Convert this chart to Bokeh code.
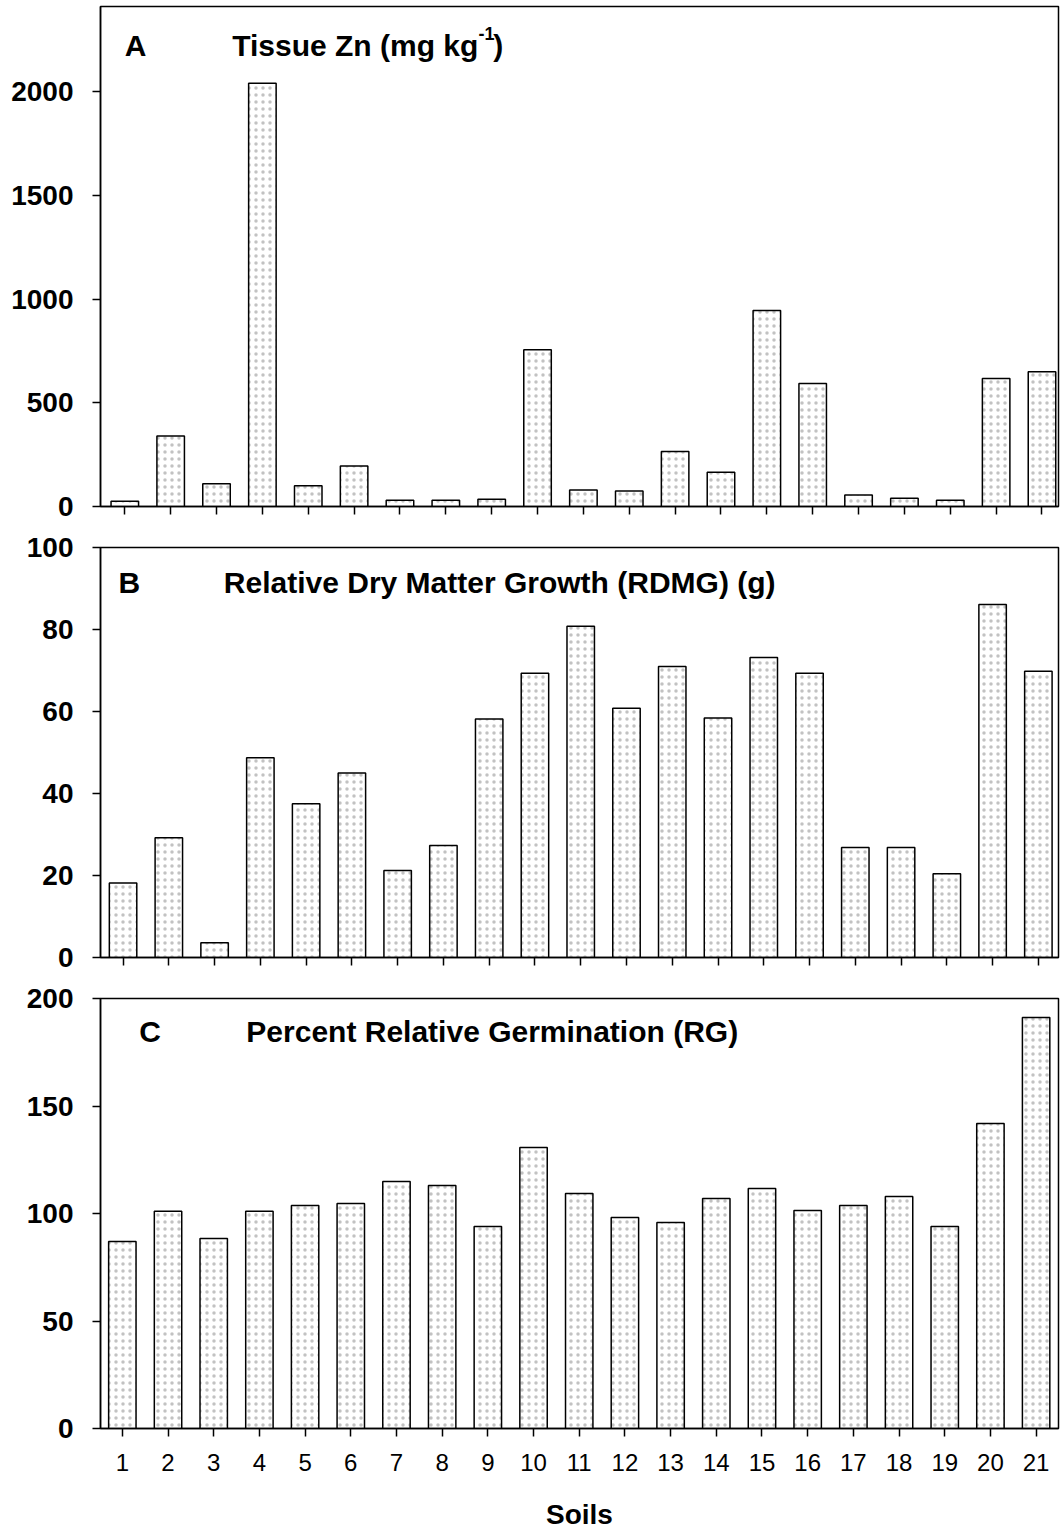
from bokeh.plotting import figure
from bokeh.layouts import column
from bokeh.models import Label, FixedTicker, Range1d
from bokeh.embed import file_html
from bokeh.resources import INLINE

soils = list(range(1, 22))
soil_labels = [str(s) for s in soils]

tissue_zn = [25, 340, 110, 2040, 100, 195, 30, 30, 35, 755, 80, 75, 265, 165, 945, 593, 55, 40, 30, 617, 650]
rdmg = [18.2, 29.2, 3.6, 48.7, 37.5, 45.0, 21.2, 27.3, 58.2, 69.3, 80.8, 60.8, 71.0, 58.4, 73.2, 69.3, 26.8, 26.8, 20.4, 86.1, 69.8]
rg = [87, 101, 88.4, 101, 103.7, 104.7, 114.9, 113, 94, 130.7, 109.3, 98.1, 95.8, 107, 111.6, 101.4, 103.7, 107.9, 94, 141.9, 191.2]

yticks_a = [0, 500, 1000, 1500, 2000]
yticks_b = [0, 20, 40, 60, 80, 100]
yticks_c = [0, 50, 100, 150, 200]

FONT = "Liberation Sans"


def make_panel(vals, xr, yr, yticks, height, bl, bt, bb, br, show_xlabels):
    p = figure(width=1061, height=height, x_range=Range1d(*xr), y_range=Range1d(*yr),
               output_backend="svg", toolbar_location=None,
               min_border_left=bl, min_border_top=bt, min_border_bottom=bb, min_border_right=br)
    p.xgrid.visible = False
    p.ygrid.visible = False
    p.outline_line_color = "black"
    p.outline_line_width = 1.5
    p.background_fill_color = "white"
    p.border_fill_color = "white"
    p.vbar(x=soils, top=vals, width=0.6, bottom=0, fill_color="white",
           line_color="black", line_width=1.5,
           hatch_pattern=".", hatch_color="#a8a8a8", hatch_scale=7, hatch_weight=1.0, hatch_alpha=0.7)
    for ax in (p.xaxis, p.yaxis):
        ax.axis_line_color = "black"
        ax.axis_line_width = 1.5
        ax.major_tick_line_color = "black"
        ax.major_tick_line_width = 1.5
        ax.major_tick_out = 8
        ax.major_tick_in = 0
        ax.minor_tick_line_color = None
    p.yaxis.ticker = FixedTicker(ticks=yticks)
    p.yaxis.major_label_text_font = FONT
    p.yaxis.major_label_text_font_style = "bold"
    p.yaxis.major_label_text_font_size = "28px"
    p.yaxis.major_label_text_color = "black"
    p.yaxis.major_label_standoff = 19
    p.xaxis.ticker = FixedTicker(ticks=soils)
    if show_xlabels:
        p.xaxis.major_label_text_font = FONT
        p.xaxis.major_label_text_font_size = "24px"
        p.xaxis.major_label_text_color = "black"
        p.xaxis.major_label_standoff = 17
        p.xaxis.axis_label = "Soils"
        p.xaxis.axis_label_text_font = FONT
        p.xaxis.axis_label_text_font_style = "bold"
        p.xaxis.axis_label_text_font_size = "28px"
        p.xaxis.axis_label_text_color = "black"
        p.xaxis.axis_label_standoff = 25
    else:
        p.xaxis.major_label_overrides = {s: "" for s in soils}
        p.xaxis.major_label_text_font_size = "10px"
        p.xaxis.major_label_standoff = 0
    return p


def lbl(p, x, y, text, size="30px", align="left"):
    p.add_layout(Label(x=x, y=y, text=text, text_font=FONT, text_font_style="bold",
                       text_font_size=size, text_color="black", text_align=align,
                       text_baseline="alphabetic"))


# Panel A  (figure occupies y 0..526)
pa = make_panel(tissue_zn, (0.47, 21.36), (0, 2410), yticks_a, 526, 100, 6, 20, 0, False)
ax_px = lambda px: (px - 124.3) / 46 + 1
ay_px = lambda py: (505.5 - py) / 0.2073
lbl(pa, ax_px(135), ay_px(45), "A", align="center")
lbl(pa, ax_px(232), ay_px(45), "Tissue Zn (mg kg")
lbl(pa, ax_px(479), ay_px(33), "-1", size="18px")
lbl(pa, ax_px(494), ay_px(45), ")")

# Panel B  (figure occupies y 526..980)
pb = make_panel(rdmg, (0.507, 21.44), (0, 100), yticks_b, 454, 98, 21, 23, 0, False)
bx_px = lambda px: (px - 120.7) / 46 + 1
by_px = lambda py: (956.5 - py) / 4.1
lbl(pb, bx_px(127), by_px(581), "B", align="center")
lbl(pb, bx_px(222), by_px(581), "Relative Dry Matter Growth (RDMG) (g)")

# Panel C  (figure occupies y 980..1533)
pc = make_panel(rg, (0.522, 21.49), (0, 200), yticks_c, 553, 93, 18, 105, 3, True)
cx_px = lambda px: (px - 115) / 46.05 + 1
cy_px = lambda py: (1428 - py) / 2.15
lbl(pc, cx_px(143), cy_px(1031), "C", align="center")
lbl(pc, cx_px(240), cy_px(1031), "Percent Relative Germination (RG)")

layout = column(pa, pb, pc, spacing=0)
open("out.html", "w").write(file_html(layout, INLINE))
